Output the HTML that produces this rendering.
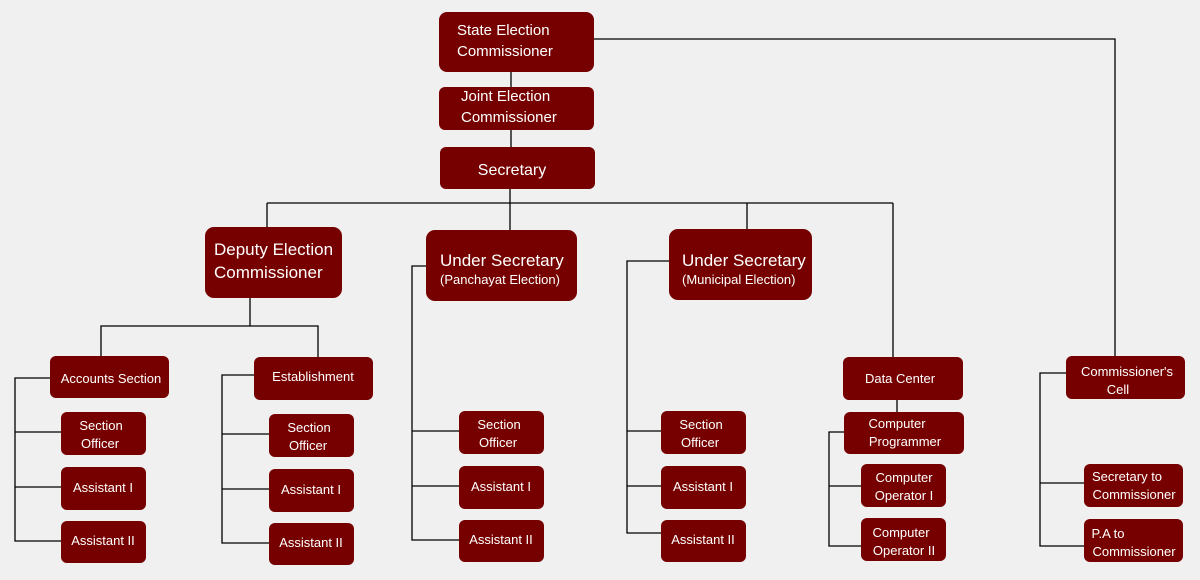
<!DOCTYPE html>
<html><head><meta charset="utf-8"><style>
html,body{margin:0;padding:0;background:#f0f0f0;}
svg{display:block}
text{font-family:"Liberation Sans",sans-serif;fill:#fff;}
</style></head><body>
<svg width="1200" height="580" viewBox="0 0 1200 580">
<rect width="1200" height="580" fill="#f0f0f0"/>
<g stroke="#000" stroke-width="1.3" fill="none">
<polyline points="594,39 1115,39 1115,356"/>
<line x1="511" y1="72" x2="511" y2="87"/>
<line x1="511" y1="130" x2="511" y2="147"/>
<line x1="510" y1="189" x2="510" y2="230"/>
<line x1="267" y1="203" x2="893" y2="203"/>
<line x1="267" y1="203" x2="267" y2="227"/>
<line x1="747" y1="203" x2="747" y2="229"/>
<line x1="893" y1="203" x2="893" y2="357"/>
<line x1="250" y1="298" x2="250" y2="326"/>
<polyline points="101,356 101,326 318,326 318,357"/>
<polyline points="50,378 15,378 15,541 61,541"/>
<line x1="15" y1="432" x2="61" y2="432"/><line x1="15" y1="487" x2="61" y2="487"/>
<polyline points="254,375 222,375 222,543 269,543"/>
<line x1="222" y1="434" x2="269" y2="434"/><line x1="222" y1="489" x2="269" y2="489"/>
<polyline points="426,266 412,266 412,540 459,540"/>
<line x1="412" y1="431" x2="459" y2="431"/><line x1="412" y1="486" x2="459" y2="486"/>
<polyline points="669,261 627,261 627,533 661,533"/>
<line x1="627" y1="431" x2="661" y2="431"/><line x1="627" y1="486" x2="661" y2="486"/>
<line x1="897" y1="400" x2="897" y2="412"/>
<polyline points="844,432 829,432 829,546 861,546"/>
<line x1="829" y1="486" x2="861" y2="486"/>
<polyline points="1066,373 1040,373 1040,546 1084,546"/>
<line x1="1040" y1="483" x2="1084" y2="483"/>
</g>
<g fill="#760000">
<rect x="439" y="12" width="155" height="60" rx="8"/>
<rect x="439" y="87" width="155" height="43" rx="6"/>
<rect x="440" y="147" width="155" height="42" rx="6"/>
<rect x="205" y="227" width="137" height="71" rx="9"/>
<rect x="426" y="230" width="151" height="71" rx="9"/>
<rect x="669" y="229" width="143" height="71" rx="9"/>
<rect x="50" y="356" width="119" height="42" rx="6"/>
<rect x="61" y="412" width="85" height="43" rx="6"/>
<rect x="61" y="467" width="85" height="43" rx="6"/>
<rect x="61" y="521" width="85" height="42" rx="6"/>
<rect x="254" y="357" width="119" height="43" rx="6"/>
<rect x="269" y="414" width="85" height="43" rx="6"/>
<rect x="269" y="469" width="85" height="43" rx="6"/>
<rect x="269" y="523" width="85" height="42" rx="6"/>
<rect x="459" y="411" width="85" height="43" rx="6"/>
<rect x="459" y="466" width="85" height="43" rx="6"/>
<rect x="459" y="520" width="85" height="42" rx="6"/>
<rect x="661" y="411" width="85" height="43" rx="6"/>
<rect x="661" y="466" width="85" height="43" rx="6"/>
<rect x="661" y="520" width="85" height="42" rx="6"/>
<rect x="843" y="357" width="120" height="43" rx="6"/>
<rect x="844" y="412" width="120" height="42" rx="6"/>
<rect x="861" y="464" width="85" height="43" rx="6"/>
<rect x="861" y="518" width="85" height="43" rx="6"/>
<rect x="1066" y="356" width="119" height="43" rx="6"/>
<rect x="1084" y="464" width="99" height="43" rx="6"/>
<rect x="1084" y="519" width="99" height="43" rx="6"/>
</g>
<g font-size="15">
<text x="457" y="35">State Election</text>
<text x="457" y="56">Commissioner</text>
<text x="461" y="101">Joint Election</text>
<text x="461" y="122">Commissioner</text>
<text x="512" y="175" text-anchor="middle" font-size="16">Secretary</text>
</g>
<g font-size="17">
<text x="214" y="255">Deputy Election</text>
<text x="214" y="278">Commissioner</text>
<text x="440" y="266">Under Secretary</text>
<text x="682" y="266">Under Secretary</text>
</g>
<text x="440" y="284" font-size="13">(Panchayat Election)</text>
<text x="682" y="284" font-size="13">(Municipal Election)</text>
<g font-size="13" text-anchor="middle">
<text x="111" y="383">Accounts Section</text>
<text x="101" y="430">Section</text><text x="100" y="448">Officer</text>
<text x="103" y="492">Assistant I</text>
<text x="103" y="545">Assistant II</text>
<text x="313" y="381">Establishment</text>
<text x="309" y="432">Section</text><text x="308" y="450">Officer</text>
<text x="311" y="494">Assistant I</text>
<text x="311" y="547">Assistant II</text>
<text x="499" y="429">Section</text><text x="498" y="447">Officer</text>
<text x="501" y="491">Assistant I</text>
<text x="501" y="544">Assistant II</text>
<text x="701" y="429">Section</text><text x="700" y="447">Officer</text>
<text x="703" y="491">Assistant I</text>
<text x="703" y="544">Assistant II</text>
<text x="900" y="383">Data Center</text>
<text x="897" y="428">Computer</text><text x="905" y="446">Programmer</text>
<text x="904" y="482">Computer</text><text x="904" y="500">Operator I</text>
<text x="901" y="537">Computer</text><text x="904" y="555">Operator II</text>
<text x="1127" y="376">Commissioner's</text><text x="1118" y="394">Cell</text>
<text x="1127" y="481">Secretary to</text><text x="1134" y="499">Commissioner</text>
<text x="1108" y="538">P.A to</text><text x="1134" y="556">Commissioner</text>
</g>
</svg>
</body></html>
